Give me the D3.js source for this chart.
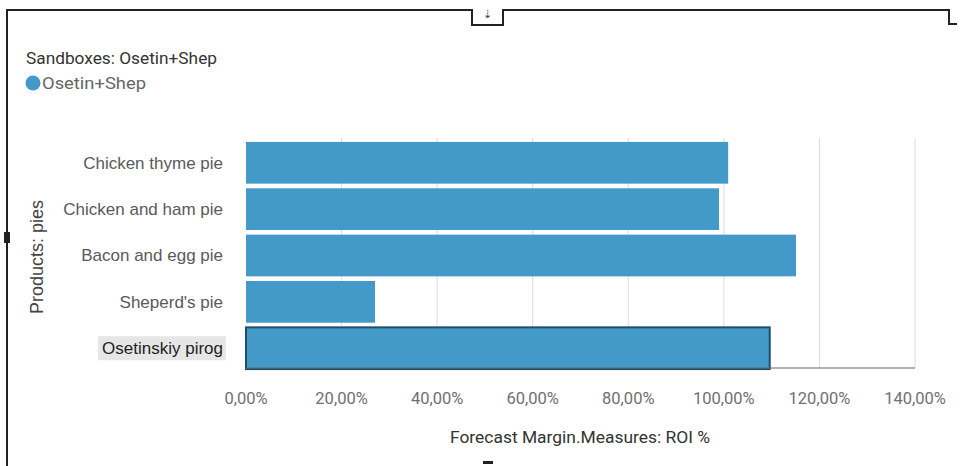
<!DOCTYPE html>
<html><head><meta charset="utf-8">
<script src="https://cdn.jsdelivr.net/npm/d3@7"></script>
<style>body{margin:0;background:#fff}svg{display:block}</style>
</head><body>
<svg id="c" width="960" height="466"></svg>
<script>
const categories = ["Chicken thyme pie","Chicken and ham pie","Bacon and egg pie","Sheperd's pie","Osetinskiy pirog"];
const values = [1.009, 0.990, 1.151, 0.270, 1.096];
const tickValues = [0,0.2,0.4,0.6,0.8,1.0,1.2,1.4];
const tickLabels = ["0,00%","20,00%","40,00%","60,00%","80,00%","100,00%","120,00%","140,00%"];
const seriesName = "Osetin+Shep";
const selected = "Osetinskiy pirog";

const svg = d3.select("#c");
const color = "#4399c8";
const x = d3.scaleLinear().domain([0,1.4]).range([246,915]);
const y = d3.scaleBand().domain(categories).range([141,370]).paddingInner(0.1).paddingOuter(0.02);

// frame
const fr = svg.append("g").attr("fill","none").attr("stroke","#222").attr("stroke-width",2);
fr.append("path").attr("d","M7,466 V10 H472 V25 H503 V10 H949 V24 H957");
svg.append("text").attr("x",487).attr("y",18).attr("text-anchor","middle").attr("font-size",11).attr("fill","#444").text("⇣");
svg.append("rect").attr("x",4).attr("y",232).attr("width",6).attr("height",11).attr("fill","#222");
svg.append("rect").attr("x",483).attr("y",461).attr("width",10).attr("height",3).attr("fill","#222");

// gridlines
svg.append("g").selectAll("line").data(tickValues.slice(1)).join("line")
  .attr("x1",d=>x(d)).attr("x2",d=>x(d)).attr("y1",138).attr("y2",368)
  .attr("stroke","#dcdcdc").attr("stroke-width",1);

// bars
svg.append("g").selectAll("rect").data(categories).join("rect")
  .attr("x",x(0)).attr("y",d=>y(d)).attr("height",y.bandwidth())
  .attr("width",(d,i)=>x(values[i])-x(0))
  .attr("fill",color)
  .attr("stroke",d=>d===selected?"#1e4f6e":"none").attr("stroke-width",2);

// axis line
svg.append("line").attr("x1",x(0)).attr("x2",x(1.4)).attr("y1",368).attr("y2",368).attr("stroke","#666").attr("stroke-width",1);

// category labels
const cl = svg.append("g").attr("font-family","Liberation Sans, Arial, sans-serif").attr("font-size",17).attr("fill","#555");
categories.forEach(c=>{
  const yc = y(c)+y.bandwidth()/2;
  if(c===selected){
    svg.insert("rect", "g").attr("x",98).attr("y",yc-12).attr("width",128).attr("height",24).attr("fill","#e6e6e6");
  }
  cl.append("text").attr("x",223).attr("y",yc).attr("dy","0.35em").attr("text-anchor","end")
    .attr("fill",c===selected?"#222":"#5a5a5a").text(c);
});

// x tick labels
svg.append("g").attr("font-family","Roboto, sans-serif").attr("font-size",16.5).attr("fill","#707070")
  .selectAll("text").data(tickValues).join("text")
  .attr("x",d=>x(d)).attr("y",404).attr("text-anchor","middle").text((d,i)=>tickLabels[i]);

// axis titles
svg.append("text").attr("x",580).attr("y",443).attr("text-anchor","middle")
  .attr("font-family","Roboto, sans-serif").attr("font-size",17).attr("fill","#333")
  .attr("textLength",260).attr("lengthAdjust","spacingAndGlyphs")
  .text("Forecast Margin.Measures: ROI %");
svg.append("text").attr("transform","translate(43,257) rotate(-90)").attr("text-anchor","middle")
  .attr("font-family","Liberation Sans, Arial, sans-serif").attr("font-size",18).attr("fill","#444")
  .text("Products: pies");

// legend
svg.append("text").attr("x",26).attr("y",64).attr("font-family","Roboto, sans-serif").attr("font-size",17).attr("fill","#333")
  .attr("textLength",191).attr("lengthAdjust","spacingAndGlyphs")
  .text("Sandboxes: Osetin+Shep");
svg.append("circle").attr("cx",33).attr("cy",83).attr("r",7.5).attr("fill",color);
svg.append("text").attr("x",42).attr("y",89).attr("font-family","Roboto, sans-serif").attr("font-size",17).attr("fill","#666")
  .attr("textLength",104).attr("lengthAdjust","spacingAndGlyphs")
  .text(seriesName);
</script>
</body></html>
